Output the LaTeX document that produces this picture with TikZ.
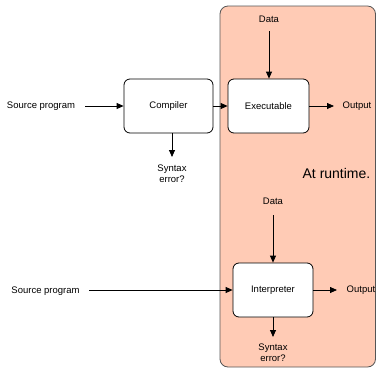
\documentclass[tikz,border=0pt]{standalone}
\usepackage{fontspec}
\setmainfont{Liberation Sans}
\usetikzlibrary{arrows.meta}
\definecolor{panelpink}{HTML}{FFCBB5}
\definecolor{paneledge}{HTML}{555555}
\begin{document}
\begin{tikzpicture}[x=1pt,y=-1pt,
  procbox/.style={draw=black, fill=white, rounded corners=6pt, line width=0.8pt, minimum width=89pt, minimum height=54pt, inner sep=0pt, font=\fontsize{9.5}{11}\selectfont},
  lbl/.style={inner sep=0pt, font=\fontsize{9.5}{11}\selectfont, align=center},
  flow/.style={-{Triangle[length=7pt,width=6pt]}, line width=0.8pt, black}]
\useasboundingbox (0,0) rectangle (376,368);
\fill[panelpink, draw=paneledge, line width=0.8pt, rounded corners=8pt] (220,6) rectangle (375.5,367);
% top row
\node[procbox] (comp) at (168.5,106) {Compiler};
\node[procbox, minimum width=81pt] (exec) at (268.5,106) {Executable};
\node[lbl] (src1) at (41,106) {Source program};
\node[lbl] (out1) at (357,106) {Output};
\node[lbl] (data1) at (269,19) {Data};
\node[lbl] (err1) at (172,173.5) {Syntax\\error?};
\coordinate (src1e) at (85,106);
\coordinate (data1e) at (269,31);
\coordinate (err1e) at (172,157);
\coordinate (out1e) at (334,106);
\draw[flow] (src1e) -- (comp.west);
\draw[flow] (comp.east) -- (exec.west);
\draw[flow] (exec.east) -- (out1e);
\draw[flow] (data1e) -- (exec.north -| data1e);
\draw[flow] (comp.south -| err1e) -- (err1e);
\node[lbl, font=\fontsize{14}{16}\selectfont] (rt) at (336.5,173) {At runtime.};
% bottom row
\node[procbox, minimum width=80pt] (interp) at (273,290) {Interpreter};
\node[lbl] (src2) at (45.5,291) {Source program};
\node[lbl] (out2) at (361,290) {Output};
\node[lbl] (data2) at (273,201) {Data};
\node[lbl] (err2) at (273,353) {Syntax\\error?};
\coordinate (src2e) at (89,290);
\coordinate (data2e) at (273,215);
\coordinate (err2e) at (273,337);
\coordinate (out2e) at (337,290);
\draw[flow] (src2e) -- (interp.west);
\draw[flow] (interp.east) -- (out2e);
\draw[flow] (data2e) -- (interp.north);
\draw[flow] (interp.south) -- (err2e);
\end{tikzpicture}
\end{document}
